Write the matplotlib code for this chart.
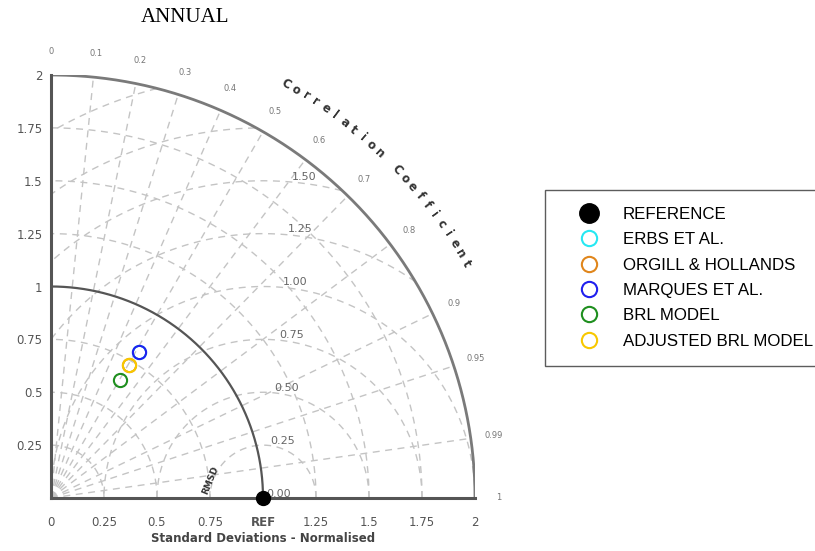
import numpy as np
import matplotlib
matplotlib.use("Agg")
import matplotlib.pyplot as plt
from matplotlib.lines import Line2D

# ---- data -------------------------------------------------------------
title = "ANNUAL"
ref_label = "REFERENCE"
ref_std = 1.0

models = ["ERBS ET AL.", "ORGILL & HOLLANDS", "MARQUES ET AL.", "BRL MODEL",
          "ADJUSTED BRL MODEL"]
model_colors = ["#27e8f2", "#e0861c", "#2020ee", "#1f8f1f", "#f8c800"]
model_std = [0.805, 0.728, 0.805, 0.647, 0.729]      # normalised std dev
model_corr = [0.516, 0.505, 0.516, 0.502, 0.505]     # correlation with ref

std_ticks = [0.0, 0.25, 0.5, 0.75, 1.0, 1.25, 1.5, 1.75, 2.0]
std_xlabels = ["0", "0.25", "0.5", "0.75", "REF", "1.25", "1.5", "1.75", "2"]
std_ylabels = ["", "0.25", "0.5", "0.75", "1", "1.25", "1.5", "1.75", "2"]
corr_ticks = [0.0, 0.1, 0.2, 0.3, 0.4, 0.5, 0.6, 0.7, 0.8, 0.9, 0.95, 0.99, 1.0]
corr_labels = ["0", "0.1", "0.2", "0.3", "0.4", "0.5", "0.6", "0.7", "0.8",
               "0.9", "0.95", "0.99", "1"]
rmsd_ticks = [0.25, 0.5, 0.75, 1.0, 1.25, 1.5, 1.75, 2.0]
rmsd_labeled = [0.0, 0.25, 0.5, 0.75, 1.0, 1.25, 1.5]

std_max = 2.0
grid_col = "#c4c4c4"
txt_col = "#555555"

# ---- figure ------------------------------------------------------------
fig = plt.figure(figsize=(8.15, 5.51), dpi=100)
ax = fig.add_axes([51 / 815, 53 / 551, 424 / 815, 423 / 551])
ax.set_xlim(0, std_max)
ax.set_ylim(0, std_max)
for s in ax.spines.values():
    s.set_visible(False)

th = np.linspace(0, np.pi / 2, 400)

# standard deviation arcs
for r in std_ticks[1:]:
    if r == std_max:
        ax.plot(r * np.cos(th), r * np.sin(th), color="#7a7a7a", lw=2.0, zorder=3)
    elif r == ref_std:
        ax.plot(r * np.cos(th), r * np.sin(th), color="#555555", lw=1.6, zorder=3)
    else:
        ax.plot(r * np.cos(th), r * np.sin(th), color=grid_col, lw=1.0,
                ls=(0, (5, 4)), zorder=1)

# correlation rays
for c in corr_ticks[1:-1]:
    a = np.arccos(c)
    ax.plot([0, std_max * np.cos(a)], [0, std_max * np.sin(a)], color=grid_col,
            lw=1.0, ls=(0, (5, 4)), zorder=1)

# centred RMS difference arcs about the reference point
phi = np.linspace(0, np.pi, 800)
for r in rmsd_ticks:
    x = ref_std + r * np.cos(phi)
    y = r * np.sin(phi)
    keep = (x >= 0) & (x ** 2 + y ** 2 <= std_max ** 2)
    x = np.where(keep, x, np.nan)
    y = np.where(keep, y, np.nan)
    ax.plot(x, y, color=grid_col, lw=1.0, ls=(0, (5, 4)), zorder=1)

for r in rmsd_labeled:
    ax.text(ref_std + 0.015 + 0.08 * r, r + 0.02, f"{r:.2f}", fontsize=8,
            color="#666666", ha="left", va="center", zorder=4)

ax.text(0.75, 0.085, "RMSD", fontsize=6.5, fontweight="bold", color="#333333",
        rotation=68, ha="center", va="center", zorder=4)

# axes lines
ax.plot([0, 0], [0, std_max], color="#555555", lw=2.2, zorder=3, clip_on=False)
ax.plot([0, std_max], [0, 0], color="#555555", lw=2.2, zorder=3, clip_on=False)

# correlation tick labels around the outer arc
for c, lab in zip(corr_ticks, corr_labels):
    a = np.arccos(c)
    ax.text(2.11 * np.cos(a), 2.11 * np.sin(a), lab, fontsize=6,
            color="#777777", ha="center", va="center", clip_on=False)

# curved "Correlation Coefficient" title
cc = "Correlation Coefficient"
angs = np.linspace(np.radians(60.5), np.radians(29.5), len(cc))
for ch, a in zip(cc, angs):
    ax.text(2.25 * np.cos(a), 2.25 * np.sin(a), ch, fontsize=8.5,
            fontweight="bold", color="#333333", rotation=np.degrees(a) - 90,
            ha="center", va="center", clip_on=False)

# ticks
ax.set_xticks(std_ticks)
ax.set_xticklabels(std_xlabels)
ax.set_yticks(std_ticks)
ax.set_yticklabels(std_ylabels)
ax.tick_params(axis="both", length=0, labelsize=8.5, colors=txt_col)
ax.tick_params(axis="x", pad=13)
ax.tick_params(axis="y", pad=6)
for t in ax.get_xticklabels():
    if t.get_text() == "REF":
        t.set_fontweight("bold")
ax.set_xlabel("Standard Deviations - Normalised", fontsize=8.5,
              fontweight="bold", color="#444444", labelpad=2)

# reference + model points
ax.plot(ref_std, 0, "o", color="black", ms=10, zorder=6, clip_on=False)
for s, c, col in zip(model_std, model_corr, model_colors):
    a = np.arccos(c)
    ax.plot(s * np.cos(a), s * np.sin(a), "o", mfc="none", mec=col, mew=1.5,
            ms=9.5, zorder=5)

fig.text(185 / 815, 1 - 17 / 551, title, fontsize=15,
         family=["Liberation Serif", "DejaVu Serif"], ha="center", va="center")

# legend
handles = [Line2D([], [], ls="none", marker="o", color="black", ms=14)]
for col in model_colors:
    handles.append(Line2D([], [], ls="none", marker="o", mfc="none", mec=col,
                          mew=1.5, ms=11))
leg = fig.legend(handles, [ref_label] + models, loc="upper left",
                 bbox_to_anchor=(545 / 815, 1 - 190 / 551),
                 prop={"family": ["Liberation Sans", "DejaVu Sans"], "size": 12.2},
                 frameon=True, fancybox=False, edgecolor="#333333",
                 handlelength=3.2, handletextpad=0.4, borderpad=1.0,
                 labelspacing=0.61, borderaxespad=0)
leg.get_frame().set_linewidth(1.0)

fig.savefig("out.png", dpi=100)
